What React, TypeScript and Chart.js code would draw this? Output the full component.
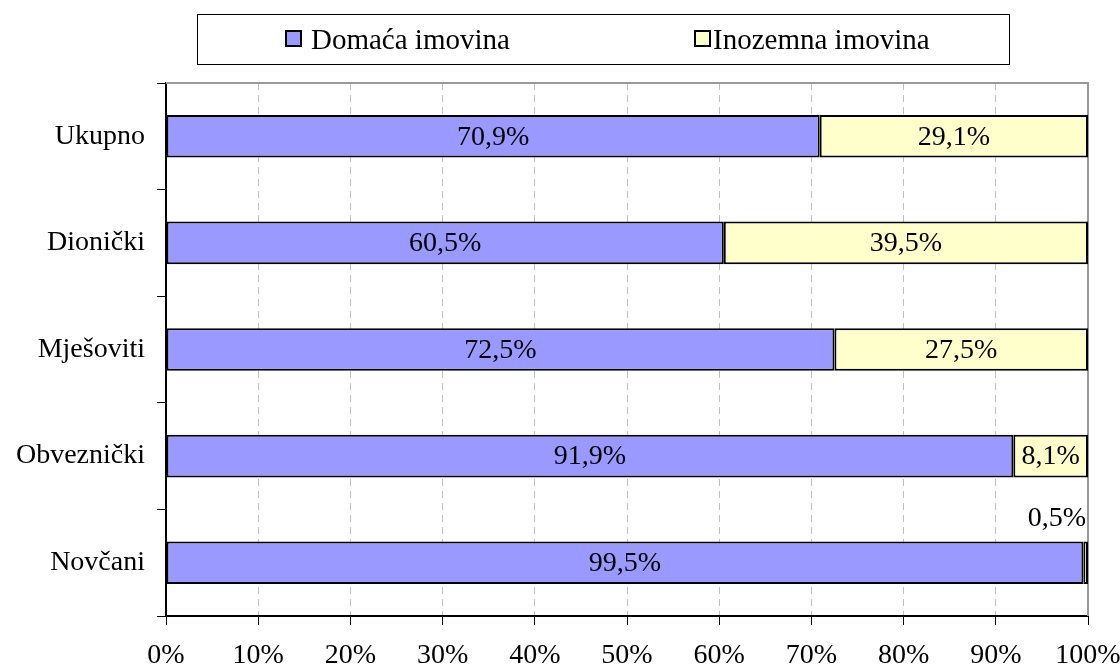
import React, { useEffect, useRef } from "react";
import { Chart, registerables } from "chart.js";

Chart.register(...registerables);

const categories = ["Ukupno", "Dionički", "Mješoviti", "Obveznički", "Novčani"];
const domacaValues = [70.9, 60.5, 72.5, 91.9, 99.5];
const inozemnaValues = [29.1, 39.5, 27.5, 8.1, 0.5];
const seriesNames = ["Domaća imovina", "Inozemna imovina"];
const xTicks = [0, 10, 20, 30, 40, 50, 60, 70, 80, 90, 100];

const FONT = "'Liberation Serif', 'Times New Roman', serif";
const BLUE = "#9999FF";
const YELLOW = "#FFFFCC";
const FS = 28;

const fmt = (v: number) => v.toFixed(1).replace(".", ",") + "%";

const framePlugin = {
  id: "frame",
  beforeDatasetsDraw(chart: any) {
    const { ctx, chartArea } = chart;
    ctx.save();
    ctx.strokeStyle = "#9a9a9a";
    ctx.lineWidth = 2;
    ctx.beginPath();
    ctx.moveTo(chartArea.left, chartArea.top);
    ctx.lineTo(chartArea.right, chartArea.top);
    ctx.lineTo(chartArea.right, chartArea.bottom);
    ctx.stroke();
    ctx.restore();
  },
};

const labelPlugin = {
  id: "barLabels",
  afterDatasetsDraw(chart: any) {
    const { ctx, chartArea } = chart;
    ctx.save();
    ctx.font = `${FS}px ${FONT}`;
    ctx.fillStyle = "#000";
    ctx.textBaseline = "middle";
    chart.data.datasets.forEach((ds: any, di: number) => {
      const meta = chart.getDatasetMeta(di);
      meta.data.forEach((el: any, i: number) => {
        const v = ds.data[i] as number;
        const txt = fmt(v);
        if (v < 3) {
          ctx.textAlign = "right";
          ctx.fillText(txt, chartArea.right - 2, el.y - el.height / 2 - 23);
        } else {
          ctx.textAlign = "center";
          ctx.fillText(txt, (el.x + el.base) / 2, el.y + 1);
        }
      });
    });
    ctx.restore();
  },
};

const legendPlugin = {
  id: "boxLegend",
  afterDraw(chart: any) {
    const { ctx } = chart;
    const colors = [BLUE, YELLOW];
    const squareX = [285, 694];
    const textX = [311, 713];
    ctx.save();
    ctx.fillStyle = "#fff";
    ctx.fillRect(197, 14, 813, 51);
    ctx.strokeStyle = "#000";
    ctx.lineWidth = 1;
    ctx.strokeRect(197.5, 14.5, 812, 50);
    ctx.font = `29px ${FONT}`;
    ctx.textAlign = "left";
    ctx.textBaseline = "alphabetic";
    seriesNames.forEach((name, i) => {
      ctx.fillStyle = colors[i];
      ctx.fillRect(squareX[i], 30, 17, 17);
      ctx.strokeStyle = "#000";
      ctx.lineWidth = 2;
      ctx.strokeRect(squareX[i] + 1, 31, 15, 15);
      ctx.fillStyle = "#000";
      ctx.fillText(name, textX[i], 49);
    });
    ctx.restore();
  },
};

export default function App() {
  const canvasRef = useRef<HTMLCanvasElement | null>(null);

  useEffect(() => {
    if (!canvasRef.current) return;
    Chart.defaults.font.family = FONT;
    const chart = new Chart(canvasRef.current, {
      type: "bar",
      data: {
        labels: categories,
        datasets: [
          {
            label: seriesNames[0],
            data: domacaValues,
            backgroundColor: BLUE,
            borderColor: "#000",
            borderWidth: 2,
            borderSkipped: false,
            barPercentage: 0.4,
            categoryPercentage: 1,
          },
          {
            label: seriesNames[1],
            data: inozemnaValues,
            backgroundColor: YELLOW,
            borderColor: "#000",
            borderWidth: 2,
            borderSkipped: false,
            barPercentage: 0.4,
            categoryPercentage: 1,
          },
        ],
      },
      options: {
        indexAxis: "y",
        animation: false,
        responsive: true,
        maintainAspectRatio: false,
        layout: { padding: { top: 83, right: 32, left: 0, bottom: 0 } },
        plugins: {
          legend: { display: false },
          tooltip: { enabled: false },
        },
        scales: {
          x: {
            stacked: true,
            min: 0,
            max: 100,
            afterBuildTicks: (scale: any) => {
              scale.ticks = xTicks.map((v) => ({ value: v }));
            },
            afterFit: (scale: any) => {
              scale.height = 54;
              scale.paddingLeft = 0;
              scale.paddingRight = 0;
            },
            ticks: {
              callback: (v: any) => v + "%",
              color: "#000",
              font: { size: FS, family: FONT },
              padding: 14,
              maxRotation: 0,
            },
            grid: {
              color: "#c0c0c0",
              tickColor: "#000",
              tickLength: 9,
              lineWidth: 1,
            },
            border: { display: true, color: "#000", width: 2, dash: [7, 5] },
          },
          y: {
            stacked: true,
            afterFit: (scale: any) => {
              scale.width = 166;
              scale.paddingTop = 0;
              scale.paddingBottom = 0;
            },
            ticks: {
              color: "#000",
              font: { size: FS, family: FONT },
              padding: 12,
            },
            grid: {
              drawOnChartArea: false,
              color: "#000",
              tickColor: "#000",
              tickLength: 9,
              offset: true,
            },
            border: { display: true, color: "#000", width: 2 },
          },
        },
      },
      plugins: [framePlugin, labelPlugin, legendPlugin],
    });
    return () => chart.destroy();
  }, []);

  return (
    <div style={{ position: "absolute", left: 0, top: 0, width: 1120, height: 670, background: "#fff" }}>
      <canvas ref={canvasRef} />
    </div>
  );
}
